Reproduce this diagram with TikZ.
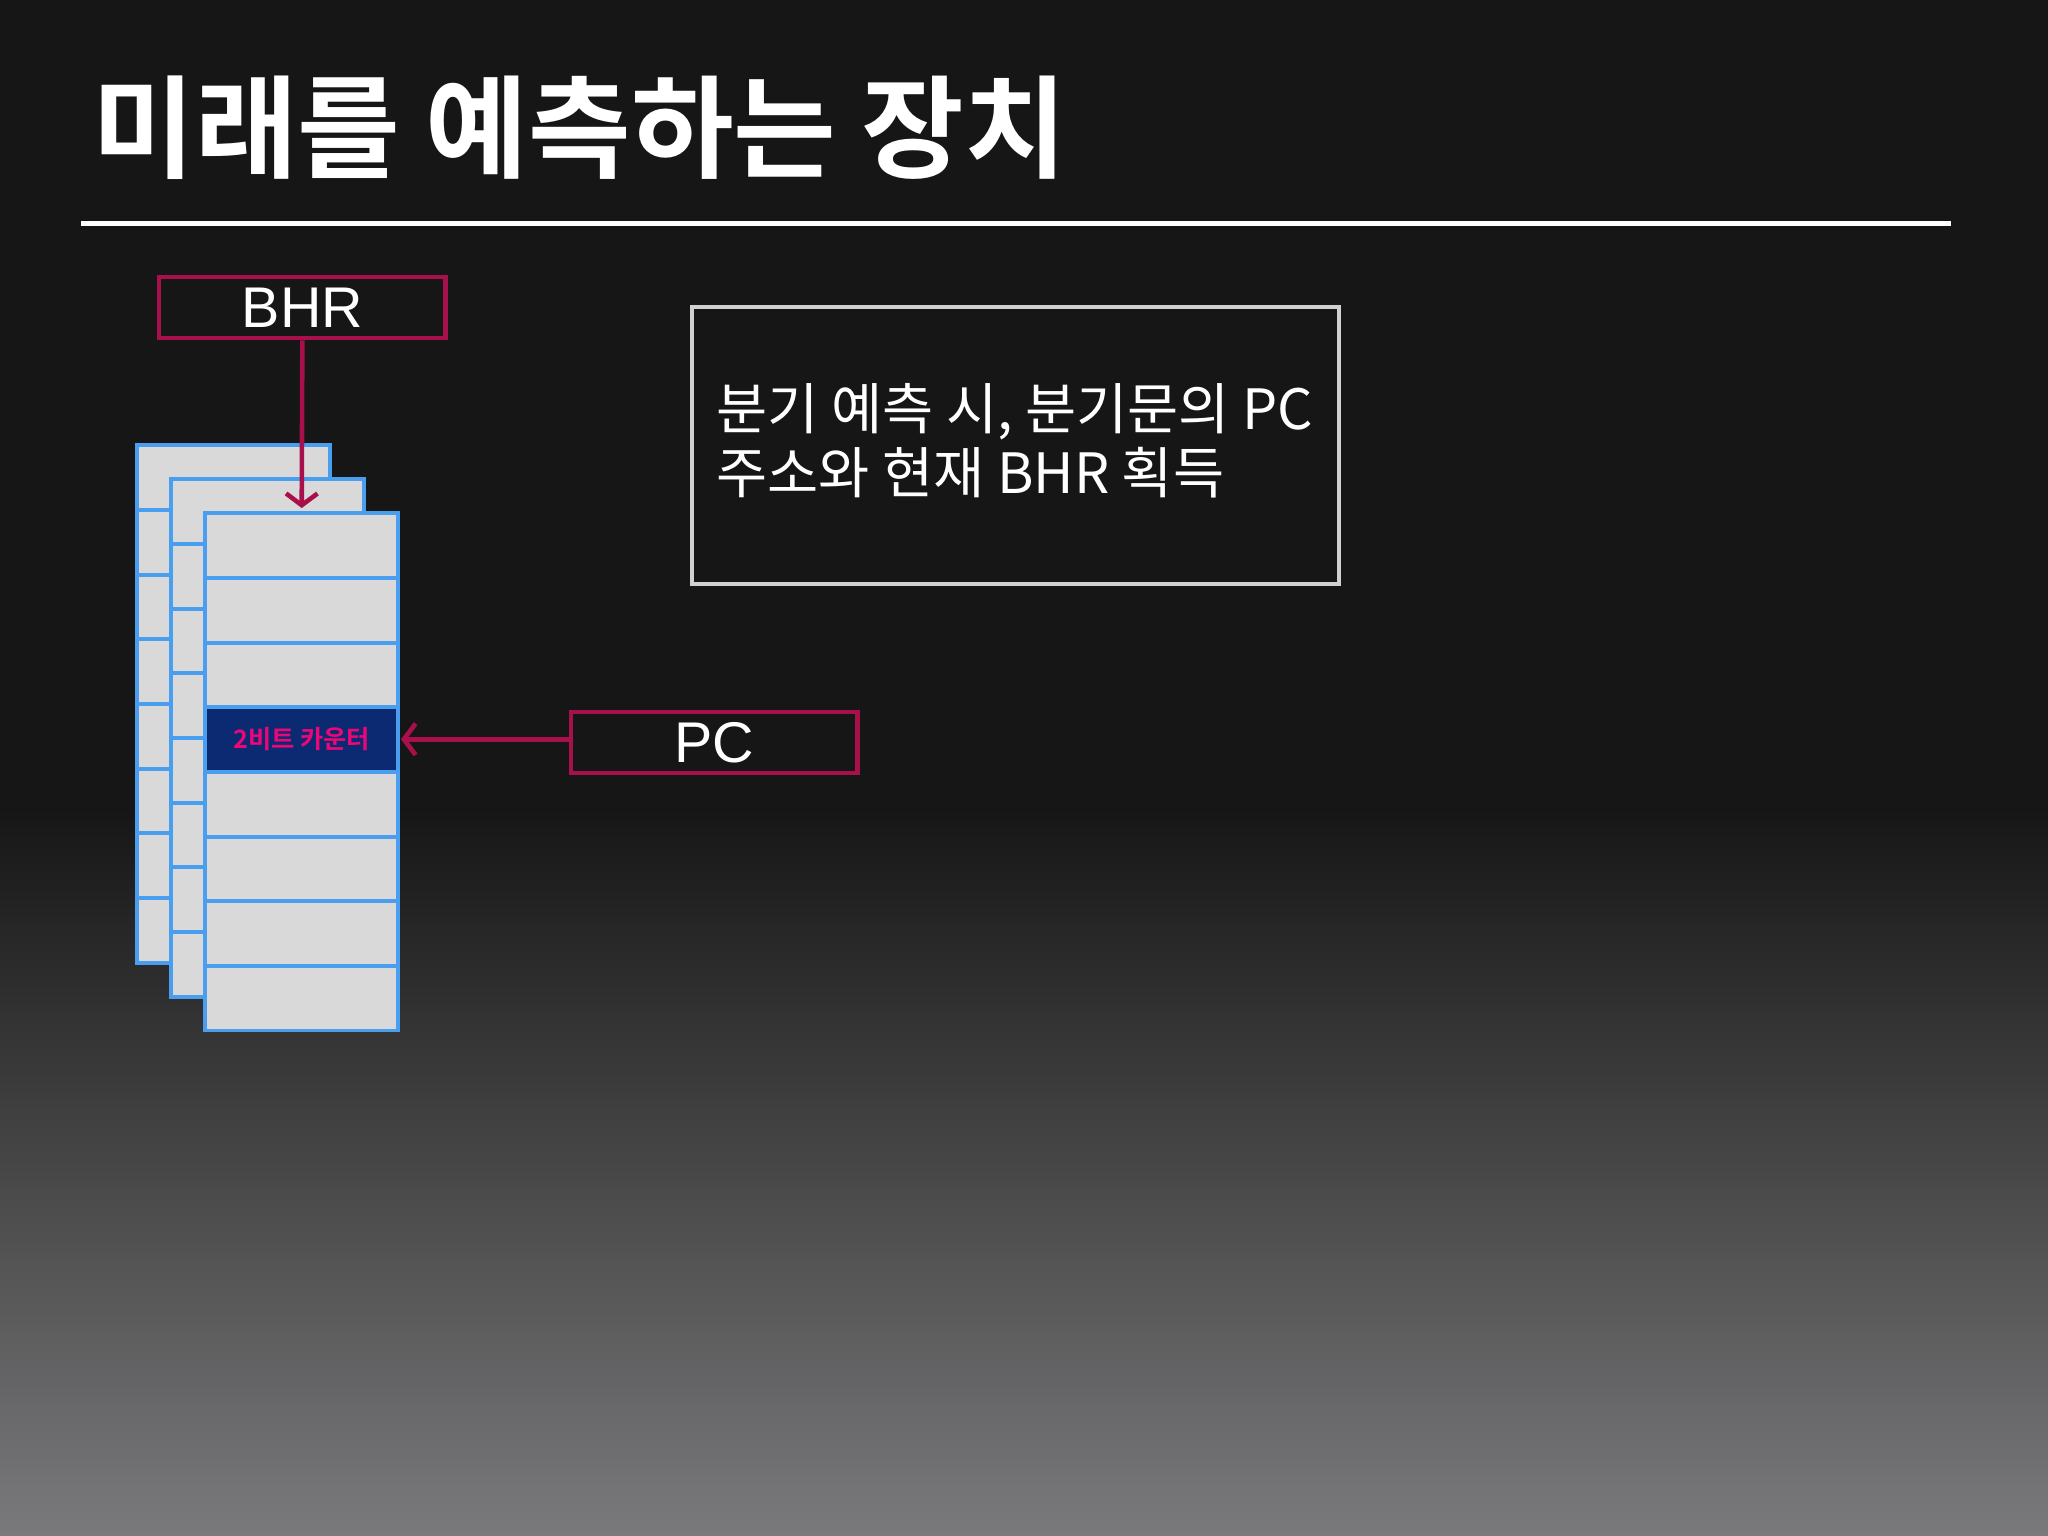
\documentclass[tikz,border=0pt]{standalone}
\usepackage{fontspec}
\setmainfont{Liberation Sans}
\newfontfamily\kr{Noto Sans CJK KR}
\newfontfamily\krb{Noto Sans CJK KR Bold}
\usetikzlibrary{arrows.meta}
\definecolor{crim}{HTML}{A8104C}
\definecolor{cellblue}{HTML}{4A9EF0}
\definecolor{cellfill}{HTML}{D9D9D9}
\definecolor{navy}{HTML}{0C2A72}
\definecolor{bgtop}{HTML}{161616}
\definecolor{bgbot}{HTML}{7A797B}
\tikzset{
  redbox/.style={draw=crim,line width=0.32mm,minimum width=2.19cm,minimum height=0.47cm,inner sep=0pt,text=white,font=\fontsize{12.5}{14}\selectfont},
  cell/.style={draw=cellblue,fill=cellfill,line width=0.3mm},
  conn/.style={draw=crim,line width=0.35mm,-{Straight Barb[length=0.9mm,width=2.4mm,line width=0.35mm]}}
}
\begin{document}
\begin{tikzpicture}[x=0.01cm,y=-0.01cm]
\useasboundingbox (0,0) rectangle (1568,1176);
\fill[bgtop] (0,0) rectangle (1568,620);
\shade[top color=bgtop,bottom color=bgbot] (0,619) rectangle (1568,1176);
\node[anchor=base west,text=white,inner sep=0pt,font=\krb\fontsize{24.3}{27}\selectfont] (title) at (70,130) {미래를 예측하는 장치};
\draw[white,line width=0.4mm] (62,171) -- (1494,171);
% stacks
\foreach \dx in {0,26,52}{
  \foreach \r in {0,...,7}{
    \draw[cell] (105+\dx,341+\dx+\r*49.5) rectangle (253+\dx,341+\dx+\r*49.5+49.5);
  }
}
\draw[cell,fill=navy] (157,541.5) rectangle (305,591);
\node[text=magenta!80!red,font=\krb\fontsize{5.5}{6}\selectfont] (cnt) at (231,566) {2비트 카운터};
\coordinate (front) at (231,389);
\coordinate (frontR) at (307,566);
\node[redbox] (bhr) at (231.5,235.5) {BHR};
\node[redbox] (pc) at (547,568.5) {PC};
\draw[conn] (bhr.south) -- (front);
\draw[conn] (pc.west |- frontR) -- (frontR);
\node[draw=white!82!black,line width=0.3mm,minimum width=4.95cm,minimum height=2.12cm] (info) at (777.5,341) {};
\node[anchor=north west,text=white,align=left,inner sep=0pt,font=\kr\fontsize{12.1}{14}\selectfont] (txt) at (548,293) {분기 예측 시, 분기문의 PC\\주소와 현재 BHR 획득};
\end{tikzpicture}
\end{document}
